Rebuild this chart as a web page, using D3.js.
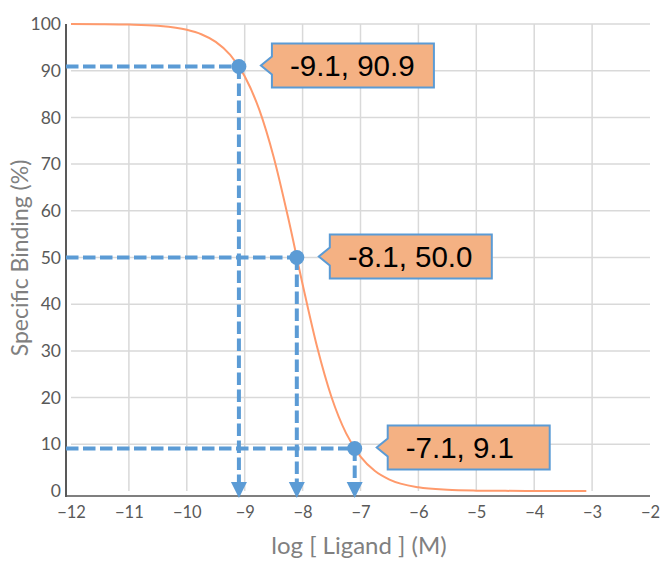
<!DOCTYPE html>
<html>
<head>
<meta charset="utf-8">
<script src="https://cdn.jsdelivr.net/npm/d3@7"></script>
<style>
  body { margin: 0; background: #fff; }
  svg { display: block; }
</style>
</head>
<body>
<svg id="chart" width="672" height="568"></svg>
<script>
// fitted curve
const curveX = [-12, -11.5, -11, -10.5, -10, -9.75, -9.5, -9.25, -9, -8.75, -8.5, -8.25, -8,
                -7.75, -7.5, -7.25, -7, -6.75, -6.5, -6, -5.5, -5, -4.5, -4, -3.1];
const curveY = [99.99, 99.96, 99.87, 99.6, 98.76, 97.81, 96.17, 93.39, 88.82, 81.71, 71.53, 58.55, 44.27,
                30.87, 20.07, 12.38, 7.36, 4.28, 2.45, 0.79, 0.25, 0.08, 0.03, 0.01, 0.0];
// marked points
const markX = [-9.1, -8.1, -7.1];
const markY = [90.9, 50.0, 9.1];
const markLabels = ["-9.1, 90.9", "-8.1, 50.0", "-7.1, 9.1"];
// ticks
const xTicks = [-12, -11, -10, -9, -8, -7, -6, -5, -4, -3, -2];
const yTicks = [0, 10, 20, 30, 40, 50, 60, 70, 80, 90, 100];

const svg = d3.select("#chart");
const x = d3.scaleLinear().domain([-12, -2]).range([71, 650]);
const y = d3.scaleLinear().domain([0, 100]).range([491, 24]);

const blue = "#5b9bd5";

// grid lines
svg.append("g").selectAll("line")
  .data(xTicks.slice(1, -1))
  .join("line")
  .attr("x1", d => x(d)).attr("x2", d => x(d))
  .attr("y1", y(100)).attr("y2", y(0))
  .attr("stroke", "#d9d9d9").attr("stroke-width", 1.5);
svg.append("g").selectAll("line")
  .data(yTicks.slice(1))
  .join("line")
  .attr("x1", x(-12)).attr("x2", x(-2))
  .attr("y1", d => y(d)).attr("y2", d => y(d))
  .attr("stroke", "#d9d9d9").attr("stroke-width", 1.5);

// axes
const xAxis = d3.axisBottom(x).tickValues(xTicks).tickSize(0).tickPadding(10);
const gx = svg.append("g").attr("transform", "translate(0,496)").call(xAxis);
gx.select(".domain").attr("d", "M66,0H650").attr("stroke", "#7f7f7f").attr("stroke-width", 2);
gx.selectAll("text").attr("font-family", "Lato").attr("font-size", 16.5).attr("fill", "#595959");

const yAxis = d3.axisLeft(y).tickValues(yTicks).tickSize(0).tickPadding(5);
const gy = svg.append("g").attr("transform", "translate(66,0)").call(yAxis);
gy.select(".domain").attr("d", "M0,24V497").attr("stroke", "#595959").attr("stroke-width", 2);
gy.selectAll("text").attr("font-family", "Lato").attr("font-size", 17.5).attr("fill", "#595959");

// axis titles
svg.append("text")
  .attr("transform", "translate(28,258) rotate(-90)")
  .attr("text-anchor", "middle")
  .attr("font-family", "Lato").attr("font-size", 23).attr("fill", "#808080")
  .text("Specific Binding (%)");
svg.append("text")
  .attr("x", 359).attr("y", 554)
  .attr("text-anchor", "middle")
  .attr("font-family", "Lato").attr("font-size", 24).attr("fill", "#808080")
  .text("log [ Ligand ] (M)");

// curve
const line = d3.line().x(d => x(d[0])).y(d => y(d[1])).curve(d3.curveMonotoneX);
svg.append("path")
  .datum(d3.zip(curveX, curveY))
  .attr("d", line)
  .attr("fill", "none").attr("stroke", "#ff9a6c").attr("stroke-width", 2);

// dashed guides with arrows
const marks = d3.zip(markX, markY, markLabels);
const guides = svg.append("g");
marks.forEach(([mx, my]) => {
  guides.append("line")
    .attr("x1", 66).attr("x2", x(mx))
    .attr("y1", y(my)).attr("y2", y(my))
    .attr("stroke", blue).attr("stroke-width", 4).attr("stroke-dasharray", "12.5,4.5");
  guides.append("line")
    .attr("x1", x(mx)).attr("x2", x(mx))
    .attr("y1", y(my)).attr("y2", 484)
    .attr("stroke", blue).attr("stroke-width", 4).attr("stroke-dasharray", "12.5,4.5");
  guides.append("path")
    .attr("d", `M${x(mx) - 8},482L${x(mx) + 8},482L${x(mx)},498Z`)
    .attr("fill", blue);
});

// points
svg.append("g").selectAll("circle")
  .data(marks)
  .join("circle")
  .attr("cx", d => x(d[0])).attr("cy", d => y(d[1]))
  .attr("r", 7.5).attr("fill", blue);

// callouts
const boxW = 162, boxH = 44, gap = 33;
const callouts = svg.append("g").selectAll("g")
  .data(marks)
  .join("g")
  .attr("transform", d => `translate(${x(d[0]) + gap},${y(d[1]) - 1})`);
callouts.append("path")
  .attr("d", `M0,-${boxH / 2}H${boxW}V${boxH / 2}H0V9L-11,0L0,-9Z`)
  .attr("fill", "#f4b183").attr("stroke", blue).attr("stroke-width", 2);
callouts.append("text")
  .attr("x", 18).attr("y", 10.5)
  .attr("font-family", "Liberation Sans").attr("font-size", 29.5).attr("fill", "#000")
  .text(d => d[2]);
</script>
</body>
</html>
